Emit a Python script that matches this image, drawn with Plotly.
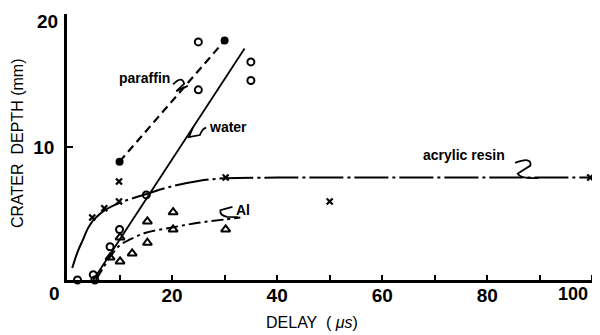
import plotly.graph_objects as go

# ---- data ----
paraffin_filled_x = [10, 30]
paraffin_filled_y = [8.9, 18.0]
paraffin_open_x = [25, 25]
paraffin_open_y = [17.9, 14.3]
paraffin_fit_x = [10, 30]
paraffin_fit_y = [8.9, 18.0]

water_x = [2, 5, 5.3, 8.2, 10, 15.1, 35, 35]
water_y = [0, 0.4, 0, 2.5, 3.8, 6.4, 16.4, 15.0]
water_fit_x = [5, 33.8]
water_fit_y = [0, 17.4]

al_x = [8.2, 10.1, 12.4, 15.3, 15.3, 20.2, 20.2, 30.2, 10.1]
al_y = [1.7, 1.4, 2.0, 2.8, 4.4, 5.1, 3.8, 3.8, 3.2]
al_fit_x = [5.5, 7, 8.5, 10, 12, 15, 20, 25, 30, 33]
al_fit_y = [0, 1.0, 1.9, 2.6, 3.05, 3.55, 3.95, 4.3, 4.55, 4.7]

acrylic_x = [4.8, 7.1, 9.9, 9.9, 30.2, 50, 99.6]
acrylic_y = [4.7, 5.4, 7.4, 5.9, 7.7, 5.9, 7.7]
acrylic_fit_solid_x = [1, 2, 3, 4, 5]
acrylic_fit_solid_y = [0.9, 2.1, 3.0, 3.9, 4.5]
acrylic_fit_x = [5, 7, 10, 15, 20, 25, 30, 40, 100]
acrylic_fit_y = [4.5, 5.2, 5.8, 6.45, 7.05, 7.45, 7.65, 7.7, 7.7]

x_tickvals = [10, 20, 30, 40, 50, 60, 70, 80, 90, 100]
x_ticktext = ["", "20", "", "40", "", "60", "", "80", "", ""]
x_last_label = "100"
y_tickvals = [10, 20]
y_ticktext = ["10", ""]
y_top_label = "20"

FONT = "Liberation Sans, Arial, sans-serif"
K = "black"

fig = go.Figure()

# fitted curves
fig.add_trace(go.Scatter(x=paraffin_fit_x, y=paraffin_fit_y, mode="lines",
                         line=dict(color=K, width=2.2, dash="8px,5px"), hoverinfo="skip"))
fig.add_trace(go.Scatter(x=water_fit_x, y=water_fit_y, mode="lines",
                         line=dict(color=K, width=1.8), hoverinfo="skip"))
fig.add_trace(go.Scatter(x=al_fit_x, y=al_fit_y, mode="lines", line_shape="spline",
                         line=dict(color=K, width=2, dash="12px,4px,3px,4px"), hoverinfo="skip"))
fig.add_trace(go.Scatter(x=acrylic_fit_solid_x, y=acrylic_fit_solid_y, mode="lines",
                         line_shape="spline", line=dict(color=K, width=2), hoverinfo="skip"))
fig.add_trace(go.Scatter(x=acrylic_fit_x, y=acrylic_fit_y, mode="lines", line_shape="spline",
                         line=dict(color=K, width=2, dash="34px,4px,3px,4px"), hoverinfo="skip"))

# markers
fig.add_trace(go.Scatter(x=paraffin_filled_x, y=paraffin_filled_y, mode="markers",
                         marker=dict(symbol="circle", size=8, color=K)))
fig.add_trace(go.Scatter(x=paraffin_open_x, y=paraffin_open_y, mode="markers",
                         marker=dict(symbol="circle-open", size=7, color=K, line=dict(width=2))))
fig.add_trace(go.Scatter(x=water_x, y=water_y, mode="markers",
                         marker=dict(symbol="circle-open", size=7, color=K, line=dict(width=2))))
fig.add_trace(go.Scatter(x=al_x, y=al_y, mode="markers",
                         marker=dict(symbol="triangle-up-open", size=8, color=K, line=dict(width=2))))
fig.add_trace(go.Scatter(x=acrylic_x, y=acrylic_y, mode="markers",
                         marker=dict(symbol="x-thin", size=6, color=K, line=dict(width=2.2, color=K))))

# squiggle leaders
squiggles = [
    "M 20.2,14.7 Q 21.9,15.4 22.3,14.75 L 20.8,14.2 L 23.0,14.6",
    "M 24.0,11.5 L 23.2,10.75 L 25.3,10.9 Q 25.8,11.4 26.5,11.45",
    "M 85.3,8.8 Q 88.5,9.3 88.2,8.6 L 85.8,8.0 Q 86.2,7.6 89.7,7.67",
    "M 31.5,5.5 L 29.2,5.25 Q 29.0,4.85 30.5,4.75 L 32.5,4.72",
]
for p in squiggles:
    fig.add_shape(type="path", path=p, xref="x", yref="y",
                  line=dict(color=K, width=1.8))

labels = [
    ("paraffin", 20.0, 15.2, "right"),
    ("water", 26.6, 11.5, "left"),
    ("acrylic resin", 75.6, 9.4, "center"),
    ("Al", 31.8, 5.3, "left"),
]
for t, x, y, a in labels:
    fig.add_annotation(x=x, y=y, text=t, showarrow=False, xanchor=a, yanchor="middle",
                       font=dict(family=FONT, size=14, color=K, weight="bold"))

# origin label, end labels and axis titles
fig.add_annotation(xref="paper", yref="paper", x=-0.0246, y=-0.0526, text="0",
                   xanchor="center", yanchor="middle", showarrow=False,
                   font=dict(family=FONT, size=19, color=K, weight="bold"))
fig.add_annotation(xref="paper", yref="paper", x=(590 - 67) / 528, y=-0.0526, text=x_last_label,
                   xanchor="right", yanchor="middle", showarrow=False,
                   font=dict(family=FONT, size=18, color=K, weight="bold"))
fig.add_annotation(xref="paper", yref="paper", x=(60 - 67) / 528, y=(280 - 9) / 266,
                   text=y_top_label, xanchor="right", yanchor="top", showarrow=False,
                   font=dict(family=FONT, size=19, color=K, weight="bold"))
fig.add_annotation(xref="paper", yref="paper", x=-0.0947, y=0.515, text="CRATER  DEPTH (mm)",
                   xanchor="center", yanchor="middle", textangle=-90, showarrow=False,
                   font=dict(family=FONT, size=16, color=K))
fig.add_annotation(xref="paper", yref="paper", x=0.464, y=-0.158, text="DELAY  ( <i>μs</i>)",
                   xanchor="center", yanchor="middle", showarrow=False,
                   font=dict(family=FONT, size=16, color=K))

fig.update_traces(cliponaxis=False, selector=dict(type="scatter"))
# the page body adds an 8px offset, so the figure is 8px smaller and margins shifted
fig.update_layout(
    width=592, height=327, showlegend=False,
    margin=dict(l=59, r=5, t=6, b=55),
    plot_bgcolor="white", paper_bgcolor="white",
    xaxis=dict(range=[0, 100.5], showgrid=False, zeroline=False, showline=True,
               automargin=False,
               linecolor=K, linewidth=2.5, ticks="inside", ticklen=5, tickwidth=2,
               tickcolor=K, tickvals=x_tickvals, ticktext=x_ticktext,
               ticklabelstandoff=-4,
               tickfont=dict(family=FONT, size=19, color=K, weight="bold")),
    yaxis=dict(range=[0, 20], showgrid=False, zeroline=False, showline=True,
               automargin=False,
               linecolor=K, linewidth=2.5, ticks="inside", ticklen=6, tickwidth=2,
               tickcolor=K, tickvals=y_tickvals, ticktext=y_ticktext,
               ticklabelstandoff=6,
               tickfont=dict(family=FONT, size=19, color=K, weight="bold")),
)

fig.write_html("out.html")
